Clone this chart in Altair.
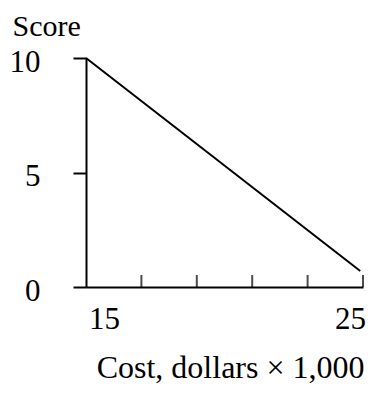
import altair as alt
import pandas as pd

# data
cost = [15, 24.9]
score = [10, 0.7]
minor_ticks = [17, 19, 21, 23, 25]
x_labels = [15, 25]
y_labels = [0, 5, 10]

FONT = "Liberation Serif"
FS = 31

line_df = pd.DataFrame({"cost": cost, "score": score})
tick_df = pd.DataFrame({"cost": minor_ticks})

xscale = alt.Scale(domain=[15, 25], nice=False, zero=False)
yscale = alt.Scale(domain=[0, 10], nice=False)

line = alt.Chart(line_df).mark_line(color="black", strokeWidth=2).encode(
    x=alt.X("cost:Q", scale=xscale,
            axis=alt.Axis(values=x_labels, ticks=False, domainColor="black",
                          domainWidth=2, labelFont=FONT, labelFontSize=FS,
                          labelColor="black", labelPadding=17,
                          labelFlush=False,
                          labelOffset={"expr": "datum.value == 15 ? 18 : -13"},
                          grid=False,
                          title="Cost, dollars × 1,000", titleFont=FONT,
                          titleFontSize=32, titleFontWeight="normal",
                          titleColor="black", titleAlign="right",
                          titleAnchor="end", titleX=278, titleY=90,
                          titleBaseline="alphabetic")),
    y=alt.Y("score:Q", scale=yscale,
            axis=alt.Axis(values=y_labels, tickSize=13, tickWidth=2,
                          tickColor="black", domainColor="black",
                          domainWidth=2, labelFont=FONT, labelFontSize=FS,
                          labelColor="black", labelPadding=33,
                          labelOffset=4, grid=False,
                          title="Score", titleFont=FONT, titleFontSize=30,
                          titleFontWeight="normal", titleColor="black",
                          titleAngle=0, titleAlign="left", titleX=-74,
                          titleY=-23, titleBaseline="alphabetic")),
)

ticks = alt.Chart(tick_df).mark_tick(
    color="black", thickness=2, size=12, orient="vertical"
).encode(
    x=alt.X("cost:Q", scale=xscale),
    y=alt.datum(0, scale=yscale),
    yOffset=alt.value(-6),
)

chart = alt.layer(line, ticks).properties(
    width=277, height=229,
    autosize=alt.AutoSizeParams(type="none"),
    padding={"left": 78, "top": 50, "right": 3, "bottom": 100},
).configure_view(stroke=None)

chart.save("out.html", embed_options={"renderer": "svg", "actions": False})
